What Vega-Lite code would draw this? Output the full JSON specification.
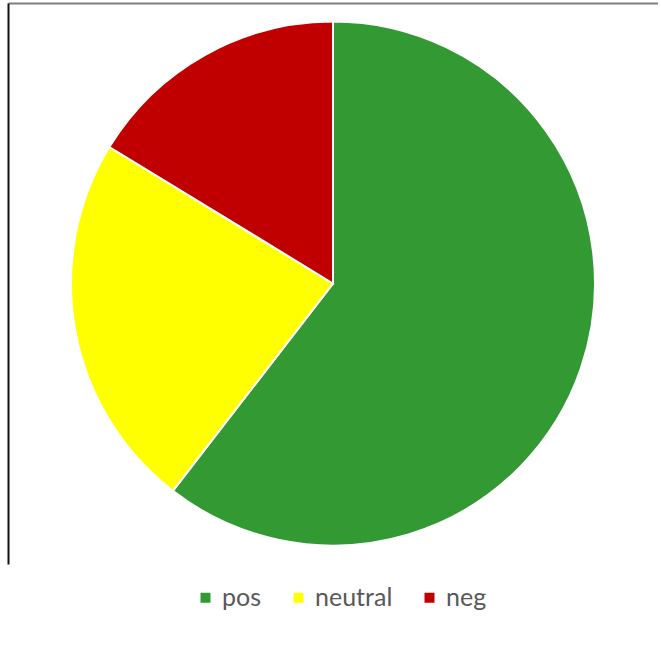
{
  "$schema": "https://vega.github.io/schema/vega-lite/v6.json",
  "width": 650,
  "height": 561,
  "padding": {"left": 8, "top": 3, "right": 0, "bottom": 0},
  "background": "white",
  "config": {"view": {"stroke": null}},
  "data": {"values": [
    {"sentiment": "pos", "count": 26},
    {"sentiment": "neutral", "count": 10},
    {"sentiment": "neg", "count": 7}
  ]},
  "layer": [
    {
      "mark": {"type": "point", "opacity": 0, "size": 0},
      "encoding": {
        "x": {"field": "count", "type": "quantitative", "axis": {"orient": "top", "labels": false, "ticks": false, "grid": false, "title": null, "domainColor": "#7f7f7f", "domainWidth": 2}},
        "y": {"field": "count", "type": "quantitative", "axis": {"orient": "left", "labels": false, "ticks": false, "grid": false, "title": null, "domainColor": "#111111", "domainWidth": 2}}
      }
    },
    {
      "mark": {"type": "arc", "outerRadius": 262, "stroke": "white", "strokeWidth": 2},
      "encoding": {
        "theta": {"field": "count", "type": "quantitative", "stack": true},
        "order": {"field": "count", "type": "quantitative", "sort": "descending"},
        "color": {
          "field": "sentiment",
          "type": "nominal",
          "sort": ["pos", "neutral", "neg"],
          "scale": {"domain": ["pos", "neutral", "neg"], "range": ["#339933", "#FFFF00", "#C00000"]},
          "legend": {
            "orient": "none",
            "direction": "horizontal",
            "legendX": 185,
            "legendY": 582,
            "title": null,
            "padding": 0,
            "symbolType": "square",
            "symbolSize": 100,
            "symbolStrokeWidth": 0,
            "labelFont": "Lato",
            "labelFontSize": 25,
            "labelColor": "#595959",
            "labelOffset": 4,
            "columnPadding": 24
          }
        }
      }
    }
  ]
}
